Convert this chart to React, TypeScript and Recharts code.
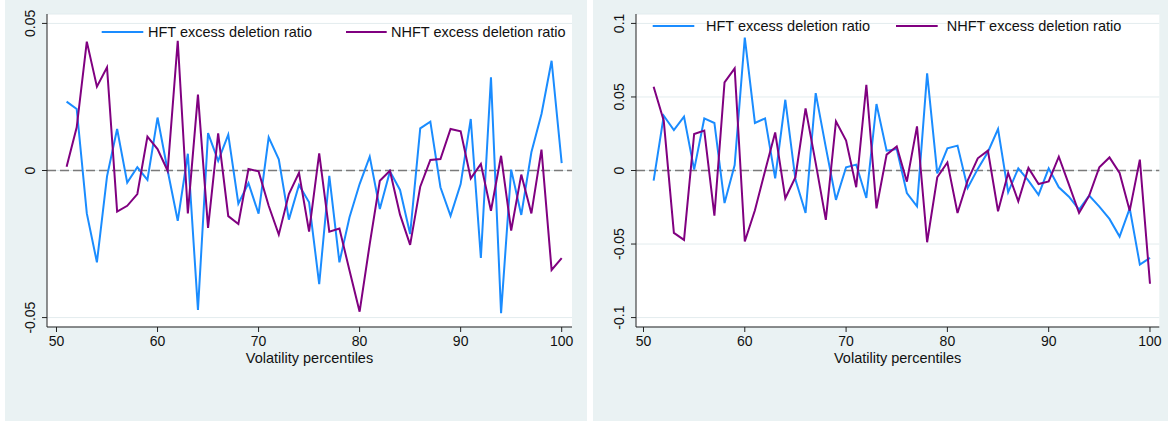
import React from "react";
import { CartesianGrid, Label, Legend, Line, LineChart, ReferenceLine, XAxis, YAxis } from "recharts";

// Volatility percentiles on the x axis
const percentiles = [
  51, 52, 53, 54, 55, 56, 57, 58, 59, 60, 61, 62, 63, 64, 65, 66, 67, 68, 69, 70, 71, 72, 73, 74, 75,
  76, 77, 78, 79, 80, 81, 82, 83, 84, 85, 86, 87, 88, 89, 90, 91, 92, 93, 94, 95, 96, 97, 98, 99, 100,
];

// left panel
const hftLeft = [
  0.0234, 0.0209, -0.0146, -0.0312, -0.002, 0.0141, -0.0041, 0.0011, -0.0032, 0.018,
  0.0, -0.0171, 0.0057, -0.0474, 0.0127, 0.0033, 0.0122, -0.0113, -0.0043, -0.0147,
  0.0113, 0.0038, -0.0167, -0.0049, -0.0108, -0.0386, -0.0018, -0.0312, -0.0159, -0.0046,
  0.0047, -0.0131, -0.0003, -0.0066, -0.0216, 0.0143, 0.0166, -0.0057, -0.0154, -0.0046,
  0.0175, -0.0297, 0.0317, -0.0485, 0.0003, -0.0151, 0.0062, 0.0192, 0.0373, 0.0025,
];
const nhftLeft = [
  0.0013, 0.0147, 0.0438, 0.0285, 0.0351, -0.014, -0.012, -0.008, 0.0115, 0.0073,
  -0.0001, 0.0441, -0.0146, 0.0258, -0.0195, 0.0126, -0.0155, -0.0182, 0.0005, -0.0003,
  -0.012, -0.0218, -0.008, -0.0008, -0.0208, 0.0058, -0.0208, -0.0197, -0.034, -0.048,
  -0.025, -0.0035, -0.0001, -0.015, -0.0253, -0.0055, 0.0036, 0.0039, 0.0141, 0.0133,
  -0.0027, 0.0022, -0.0137, 0.005, -0.0204, -0.0014, -0.0146, 0.0071, -0.0338, -0.0298,
];

// right panel
const hftRight = [
  -0.0069, 0.0372, 0.0275, 0.0366, 0.0006, 0.0354, 0.0323, -0.0221, 0.0037, 0.0904,
  0.0323, 0.0354, -0.0053, 0.0481, -0.0062, -0.0289, 0.0526, 0.0157, -0.02, 0.0022,
  0.004, -0.0187, 0.0452, 0.0135, 0.0146, -0.0153, -0.0243, 0.066, -0.0019, 0.0151,
  0.0169, -0.0119, 0.0011, 0.0126, 0.0282, -0.0148, 0.0015, -0.0069, -0.0166, 0.0015,
  -0.0114, -0.0178, -0.0266, -0.0171, -0.0246, -0.0329, -0.0449, -0.0257, -0.064, -0.0594,
];
const nhftRight = [
  0.0569, 0.0338, -0.0424, -0.0472, 0.0248, 0.0271, -0.0307, 0.0599, 0.0694, -0.0483,
  -0.027, -0.0003, 0.0259, -0.0189, -0.0046, 0.0422, 0.005, -0.0336, 0.0334, 0.0203,
  -0.0114, 0.0583, -0.0257, 0.0108, 0.0164, -0.0076, 0.03, -0.0488, -0.0046, 0.0055,
  -0.0289, -0.0069, 0.0083, 0.0135, -0.0277, -0.0017, -0.021, 0.0017, -0.0092, -0.0074,
  0.0094, -0.0096, -0.0289, -0.0171, 0.0022, 0.0089, -0.0017, -0.0273, 0.0074, -0.077,
];

const xTicks = [50, 60, 70, 80, 90, 100];
const yTicksLeft = [-0.05, 0, 0.05];
const yTicksRight = [-0.1, -0.05, 0, 0.05, 0.1];

const HFT_COLOR = "#1A8CFF";
const NHFT_COLOR = "#800080";
const BG = "#EAF2F3";
const AXIS = "#222";
const FONT = "'Liberation Sans', Arial, sans-serif";

const YTick = (props: any) => {
  const { x, y, payload } = props;
  return (
    <text x={x} y={y} transform={`rotate(-90 ${x} ${y})`} textAnchor="middle" fontSize={14} fill="#111" fontFamily={FONT}>
      {String(payload.value)}
    </text>
  );
};

const XTitle = (props: any) => {
  const vb = props.viewBox;
  return (
    <text x={vb.x + vb.width / 2} y={vb.y + 36} textAnchor="middle" fontSize={14.5} fill="#111" fontFamily={FONT}>
      Volatility percentiles
    </text>
  );
};

type LegendPos = { x1: number; x2: number; tx: number };

function makeLegend(width: number, positions: LegendPos[]) {
  return (props: any) => {
    const items = props.payload || [];
    return (
      <svg width={width} height={24} style={{ display: "block" }}>
        {items.map((it: any, i: number) => {
          const p = positions[i];
          if (!p) return null;
          return (
            <g key={i}>
              <line x1={p.x1} x2={p.x2} y1={12} y2={12} stroke={it.color} strokeWidth={2} />
              <text x={p.tx} y={12} dominantBaseline="central" fontSize={14.5} fill="#111" fontFamily={FONT}>
                {it.value}
              </text>
            </g>
          );
        })}
      </svg>
    );
  };
}

type PanelProps = {
  left: number;
  width: number;
  hft: number[];
  nhft: number[];
  yDomain: [number, number];
  yTicks: number[];
  xDomain: [number, number];
  margin: { top: number; right: number; left: number; bottom: number };
  legendTop: number;
  legendPos: LegendPos[];
};

function Panel(p: PanelProps) {
  const data = percentiles.map((pct, i) => ({ pct, hft: p.hft[i], nhft: p.nhft[i] }));
  return (
    <div style={{ position: "absolute", left: p.left, top: 0, width: p.width, height: 421, background: BG }}>
      <LineChart width={p.width} height={421} data={data} margin={p.margin}>
        <CartesianGrid vertical={false} stroke="#E3ECEE" fill="#ffffff" fillOpacity={1} />
        <XAxis
          type="number"
          dataKey="pct"
          domain={p.xDomain}
          ticks={xTicks}
          allowDataOverflow
          height={94}
          tickSize={5}
          tickMargin={4}
          stroke={AXIS}
          tick={{ fontSize: 14, fill: "#111", fontFamily: FONT }}
        >
          <Label content={XTitle} />
        </XAxis>
        <YAxis
          type="number"
          domain={p.yDomain}
          ticks={p.yTicks}
          allowDataOverflow
          width={30}
          tickSize={5}
          tickMargin={7}
          stroke={AXIS}
          tick={YTick}
        />
        <ReferenceLine y={0} stroke="#7A7A7A" strokeDasharray="9 4" strokeWidth={1.6} />
        <Legend
          layout="horizontal"
          verticalAlign="middle"
          align="center"
          wrapperStyle={{ top: p.legendTop, left: 0, width: p.width, height: 24 }}
          content={makeLegend(p.width, p.legendPos)}
        />
        <Line
          type="linear"
          dataKey="hft"
          name="HFT excess deletion ratio"
          stroke={HFT_COLOR}
          strokeWidth={2}
          dot={false}
          isAnimationActive={false}
        />
        <Line
          type="linear"
          dataKey="nhft"
          name="NHFT excess deletion ratio"
          stroke={NHFT_COLOR}
          strokeWidth={2}
          dot={false}
          isAnimationActive={false}
        />
      </LineChart>
    </div>
  );
}

export default function App() {
  return (
    <div style={{ position: "absolute", left: 0, top: 0, width: 1168, height: 423, background: "#fff", fontFamily: FONT }}>
      <Panel
        left={5}
        width={582}
        hft={hftLeft}
        nhft={nhftLeft}
        yDomain={[-0.0532, 0.0532]}
        yTicks={yTicksLeft}
        xDomain={[49.06, 101.02]}
        margin={{ top: 14, right: 15, left: 12, bottom: 0 }}
        legendTop={20}
        legendPos={[
          { x1: 96.7, x2: 138.3, tx: 143 },
          { x1: 341, x2: 381.7, tx: 386 },
        ]}
      />
      <Panel
        left={593}
        width={575}
        hft={hftRight}
        nhft={nhftRight}
        yDomain={[-0.1064, 0.1064]}
        yTicks={yTicksRight}
        xDomain={[49.26, 100.92]}
        margin={{ top: 14, right: 8.7, left: 13, bottom: 0 }}
        legendTop={14}
        legendPos={[
          { x1: 59.7, x2: 101.3, tx: 113 },
          { x1: 303, x2: 344.7, tx: 353.7 },
        ]}
      />
    </div>
  );
}
